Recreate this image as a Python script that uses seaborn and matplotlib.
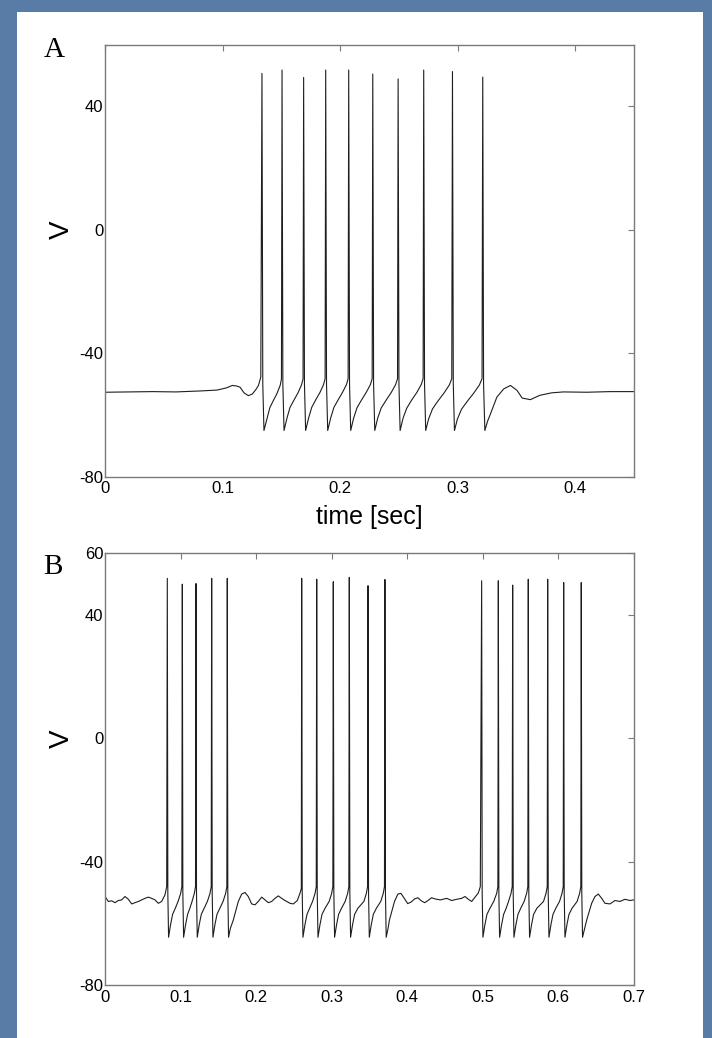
import matplotlib
matplotlib.use("Agg")
import matplotlib.pyplot as plt
import seaborn as sns
import pandas as pd
from matplotlib.patches import Rectangle

# ---------------- Panel A: membrane potential trace (vertices) ----------------
time_A = [
    0.0000, 0.0200, 0.0400, 0.0600, 0.0800, 0.0950, 0.1030, 0.1080, 0.1120, 0.1147, 0.1180, 0.1217, 0.1250, 0.1280, 0.1303, 0.1323,
    0.1333, 0.1340, 0.1350, 0.1375, 0.1400, 0.1430, 0.1460, 0.1488, 0.1499,
    0.1504, 0.1511, 0.1521, 0.1546, 0.1572, 0.1605, 0.1640, 0.1670, 0.1683,
    0.1688, 0.1695, 0.1705, 0.1730, 0.1757, 0.1792, 0.1828, 0.1858, 0.1871,
    0.1876, 0.1883, 0.1893, 0.1918, 0.1946, 0.1983, 0.2020, 0.2053, 0.2067,
    0.2072, 0.2079, 0.2089, 0.2114, 0.2143, 0.2183, 0.2222, 0.2257, 0.2272,
    0.2277, 0.2284, 0.2294, 0.2319, 0.2349, 0.2392, 0.2434, 0.2472, 0.2488,
    0.2493, 0.2500, 0.2510, 0.2535, 0.2566, 0.2609, 0.2652, 0.2690, 0.2706,
    0.2711, 0.2718, 0.2728, 0.2753, 0.2786, 0.2835, 0.2885, 0.2930, 0.2950,
    0.2956, 0.2963, 0.2973, 0.2998, 0.3033, 0.3085, 0.3137, 0.3186, 0.3208,
    0.3214, 0.3221, 0.3232, 0.3255, 0.3280, 0.3334, 0.3393, 0.3450, 0.3506, 0.3550, 0.3620, 0.3700, 0.3800, 0.3900, 0.4100, 0.4300, 0.4500,
]
volt_A = [
    -52.6, -52.5, -52.4, -52.5, -52.2, -51.9, -51.2, -50.4, -50.6, -51.0, -52.8, -53.7, -53.2, -51.8, -50.4, -47.7,
    50.7, -50.0, -65.0, -61.3, -57.6, -55.3, -53.1, -50.4, -48.3,
    51.8, -50.0, -65.0, -61.0, -57.5, -55.2, -52.8, -50.2, -48.3,
    49.4, -50.0, -65.0, -61.0, -57.5, -55.0, -52.6, -50.1, -48.2,
    51.8, -50.0, -65.0, -61.0, -57.5, -55.0, -52.6, -50.1, -48.2,
    51.8, -50.0, -65.0, -61.0, -57.6, -55.0, -52.6, -50.1, -48.2,
    50.5, -50.0, -65.0, -61.0, -57.7, -55.1, -52.7, -50.1, -48.2,
    48.9, -50.0, -65.0, -61.0, -57.8, -55.1, -52.7, -50.1, -48.2,
    51.8, -50.0, -65.0, -61.2, -58.0, -55.3, -52.8, -50.2, -48.2,
    51.3, -50.0, -65.0, -61.3, -58.1, -55.4, -52.9, -50.2, -48.2,
    49.5, -50.0, -65.0, -62.0, -59.6, -54.2, -51.5, -50.4, -52.0, -54.5, -55.0, -53.6, -52.8, -52.5, -52.6, -52.4, -52.4,
]

# ---------------- Panel B: bursting trace (vertices) ----------------
time_B = [
    0.0000, 0.0037, 0.0082, 0.0126, 0.0170, 0.0214, 0.0258, 0.0303, 0.0347, 0.0391, 0.0435, 0.0479, 0.0523, 0.0568, 0.0612, 0.0656, 0.0700, 0.0744, 0.0788, 0.0811,
    0.0819, 0.0826, 0.0836, 0.0861, 0.0889, 0.0925, 0.0962, 0.0996, 0.1012,
    0.1018, 0.1025, 0.1035, 0.1060, 0.1088, 0.1118, 0.1147, 0.1177, 0.1193,
    0.1199, 0.1206, 0.1216, 0.1241, 0.1269, 0.1307, 0.1350, 0.1385, 0.1401,
    0.1407, 0.1414, 0.1424, 0.1449, 0.1477, 0.1515, 0.1558, 0.1592, 0.1608,
    0.1614, 0.1621, 0.1631, 0.1655, 0.1694, 0.1760, 0.1805, 0.1849, 0.1892, 0.1937, 0.1981, 0.2025, 0.2070, 0.2114, 0.2158, 0.2202,
    0.2246, 0.2290, 0.2335, 0.2379, 0.2445, 0.2489, 0.2542, 0.2578, 0.2595,
    0.2600, 0.2607, 0.2617, 0.2642, 0.2670, 0.2706, 0.2744, 0.2777, 0.2793,
    0.2799, 0.2806, 0.2816, 0.2841, 0.2869, 0.2910, 0.2964, 0.2997, 0.3013,
    0.3019, 0.3026, 0.3036, 0.3061, 0.3089, 0.3128, 0.3176, 0.3209, 0.3225,
    0.3231, 0.3238, 0.3248, 0.3273, 0.3301, 0.3345, 0.3424, 0.3457, 0.3473,
    0.3479, 0.3486, 0.3496, 0.3521, 0.3549, 0.3590, 0.3648, 0.3681, 0.3697,
    0.3703, 0.3710, 0.3720, 0.3745, 0.3763, 0.3830, 0.3875, 0.3915, 0.3960, 0.4005, 0.4050, 0.4095, 0.4140, 0.4185, 0.4230, 0.4275,
    0.4320, 0.4370, 0.4438, 0.4522, 0.4588, 0.4654, 0.4720, 0.4764, 0.4808, 0.4853, 0.4897, 0.4940, 0.4967,
    0.4985, 0.4992, 0.5002, 0.5027, 0.5055, 0.5095, 0.5145, 0.5184, 0.5200,
    0.5206, 0.5213, 0.5223, 0.5248, 0.5276, 0.5310, 0.5341, 0.5374, 0.5390,
    0.5396, 0.5403, 0.5413, 0.5438, 0.5466, 0.5503, 0.5548, 0.5581, 0.5597,
    0.5603, 0.5610, 0.5620, 0.5645, 0.5673, 0.5717, 0.5805, 0.5838, 0.5854,
    0.5860, 0.5867, 0.5877, 0.5902, 0.5930, 0.5968, 0.6017, 0.6050, 0.6066,
    0.6072, 0.6079, 0.6089, 0.6114, 0.6142, 0.6183, 0.6250, 0.6283, 0.6299,
    0.6305, 0.6312, 0.6322, 0.6350, 0.6377, 0.6443, 0.6487, 0.6531, 0.6576, 0.6619, 0.6686, 0.6752, 0.6818, 0.6884, 0.6951, 0.7000,
]
volt_B = [
    -51.4, -52.8, -52.6, -53.2, -52.5, -52.3, -51.2, -52.1, -53.6, -53.2, -52.8, -52.3, -51.8, -51.4, -51.8, -52.3, -53.4, -52.8, -50.7, -48.0,
    51.9, -50.0, -64.4, -60.5, -57.0, -55.0, -52.8, -50.2, -48.0,
    50.0, -50.0, -64.4, -60.5, -57.0, -55.0, -52.8, -50.2, -48.0,
    50.2, -50.0, -64.4, -60.5, -57.0, -55.0, -52.8, -50.2, -48.0,
    51.9, -50.0, -64.4, -60.5, -57.0, -55.0, -52.8, -50.2, -48.0,
    51.9, -50.0, -64.4, -61.5, -58.8, -52.8, -50.4, -49.9, -51.2, -53.6, -53.9, -52.8, -51.4, -52.3, -53.2, -52.8,
    -51.8, -51.0, -51.8, -52.5, -53.4, -53.6, -52.5, -50.1, -48.6,
    51.9, -50.0, -64.4, -60.5, -57.0, -55.0, -52.8, -50.2, -48.0,
    51.6, -50.0, -64.4, -60.5, -57.0, -55.0, -52.8, -50.2, -48.0,
    50.8, -50.0, -64.4, -60.5, -57.0, -55.0, -52.8, -50.2, -48.0,
    52.2, -50.0, -64.4, -60.5, -57.0, -55.0, -52.8, -50.2, -48.0,
    49.5, -50.0, -64.4, -60.5, -57.0, -55.0, -52.8, -50.2, -48.0,
    51.5, -50.0, -64.4, -61.5, -58.8, -52.8, -50.4, -50.2, -51.8, -53.5, -53.0, -52.0, -51.6, -52.6, -53.2, -52.5,
    -51.6, -52.0, -52.3, -51.8, -52.5, -52.1, -51.8, -51.2, -52.1, -52.8, -51.4, -50.1, -48.0,
    51.1, -50.0, -64.4, -60.5, -57.0, -55.0, -52.8, -50.2, -48.0,
    51.1, -50.0, -64.4, -60.5, -57.0, -55.0, -52.8, -50.2, -48.0,
    49.7, -50.0, -64.4, -60.5, -57.0, -55.0, -52.8, -50.2, -48.0,
    51.6, -50.0, -64.4, -60.5, -57.0, -55.0, -52.8, -50.2, -48.0,
    51.6, -50.0, -64.4, -60.5, -57.0, -55.0, -52.8, -50.2, -48.0,
    50.5, -50.0, -64.4, -60.5, -57.0, -55.0, -52.8, -50.2, -48.0,
    50.5, -50.0, -64.4, -61.5, -58.8, -53.4, -51.2, -50.4, -51.8, -53.4, -53.6, -52.5, -52.8, -52.1, -52.5, -52.3,
]

# ---------------- Axis ticks and labels ----------------
xticks_A = [0, 0.1, 0.2, 0.3, 0.4]
xticklabels_A = ["0", "0.1", "0.2", "0.3", "0.4"]
yticks_A = [-80, -40, 0, 40]
xticks_B = [0, 0.1, 0.2, 0.3, 0.4, 0.5, 0.6, 0.7]
xticklabels_B = ["0", "0.1", "0.2", "0.3", "0.4", "0.5", "0.6", "0.7"]
yticks_B = [-80, -40, 0, 40, 60]
panel_labels = ["A", "B"]
xlabel_A = "time [sec]"
ylabel = "V"

# ---------------- Styling ----------------
sns.set_style("white")
plt.rcParams['font.family'] = ['Liberation Sans', 'DejaVu Sans']
plt.rcParams['text.color'] = 'black'
plt.rcParams['axes.labelcolor'] = 'black'

W, H = 712, 1038
BLUE = "#587ca5"
SPINE = "#7a7a7a"
TRACE = "#1e1e1e"

fig = plt.figure(figsize=(W / 100, H / 100), dpi=100, facecolor=BLUE)
fig.patches.append(Rectangle((17 / W, 0), (703 - 17) / W, (H - 12) / H,
                             transform=fig.transFigure, facecolor="white",
                             edgecolor="none", zorder=-10))

ax_left, ax_w, ax_h = 105.5 / W, 528.2 / W, 432.1 / H
axA = fig.add_axes([ax_left, 1 - 476.8 / H, ax_w, ax_h])
axB = fig.add_axes([ax_left, 1 - 985.4 / H, ax_w, ax_h])
axA.set_zorder(5)
axB.set_zorder(5)

dfA = pd.DataFrame({"t": time_A, "v": volt_A})
dfB = pd.DataFrame({"t": time_B, "v": volt_B})
sns.lineplot(data=dfA, x="t", y="v", ax=axA, color=TRACE, linewidth=0.8,
             estimator=None, sort=False)
sns.lineplot(data=dfB, x="t", y="v", ax=axB, color=TRACE, linewidth=0.8,
             estimator=None, sort=False)

def style(ax, xlim, xticks, xticklabels, yticks):
    ax.set_xlim(*xlim)
    ax.set_ylim(-80, 60)
    ax.set_xticks(xticks)
    ax.set_xticklabels(xticklabels)
    ax.set_yticks(yticks)
    ax.set_yticklabels([str(v) for v in yticks])
    ax.set_facecolor("white")
    for s in ax.spines.values():
        s.set_visible(True)
        s.set_color(SPINE)
        s.set_linewidth(1.0)
    ax.tick_params(axis="both", which="major", direction="in", length=4,
                   width=0.8, color=SPINE, labelcolor="black",
                   labelsize=12, top=True, right=True,
                   labeltop=False, labelright=False)
    ax.tick_params(axis="y", pad=1.5)
    ax.tick_params(axis="x", pad=3)
    ax.set_ylabel(ylabel, fontsize=20, labelpad=0, color="black")
    ax.yaxis.set_label_coords(-0.082, 80 / 140)
    ax.yaxis.label.set_va("center")
    ax.grid(False)

style(axA, (0, 0.45), xticks_A, xticklabels_A, yticks_A)
style(axB, (0, 0.7), xticks_B, xticklabels_B, yticks_B)

axA.set_xlabel(xlabel_A, fontsize=18, color="black")
axA.xaxis.set_label_coords(0.5, -(516.7 - 476.8) / 432.1)
axA.xaxis.label.set_va("center")
axB.set_xlabel("")

fig.text(54 / W, 1 - 50 / H, panel_labels[0], family=["Liberation Serif", "DejaVu Serif"],
         fontsize=21, ha="center", va="center", color="black")
fig.text(53 / W, 1 - 567 / H, panel_labels[1], family=["Liberation Serif", "DejaVu Serif"],
         fontsize=21, ha="center", va="center", color="black")

fig.savefig("out.png", dpi=100, facecolor=fig.get_facecolor())
